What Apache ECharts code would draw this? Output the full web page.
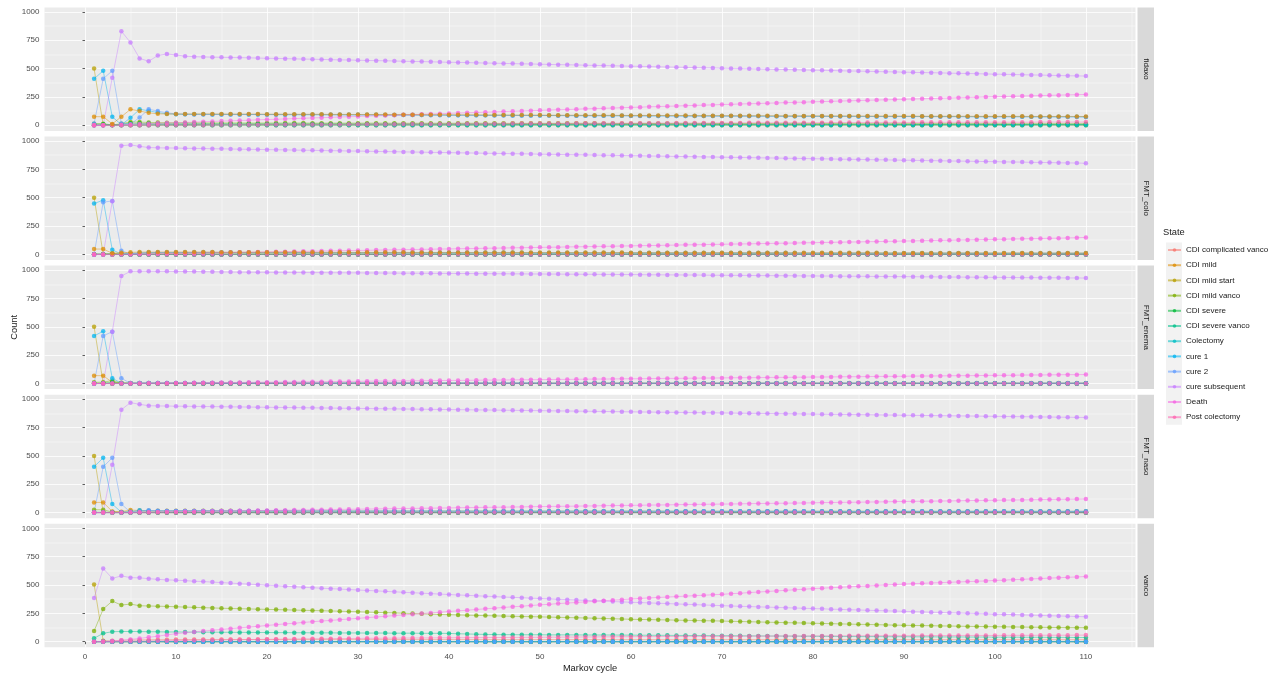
<!DOCTYPE html>
<html>
<head>
<meta charset="utf-8">
<title>Markov cycle counts by state</title>
<script src="https://cdn.jsdelivr.net/npm/echarts@6/dist/echarts.min.js"></script>
<style>
  html, body { margin: 0; padding: 0; background: #ffffff; }
  #chart { width: 1280px; height: 677px; }
</style>
</head>
<body>
<div id="chart"></div>
<script>
// x categories: Markov cycles
const cycles = [
  1,2,3,4,5,6,7,8,9,10,
  11,12,13,14,15,16,17,18,19,20,
  21,22,23,24,25,26,27,28,29,30,
  31,32,33,34,35,36,37,38,39,40,
  41,42,43,44,45,46,47,48,49,50,
  51,52,53,54,55,56,57,58,59,60,
  61,62,63,64,65,66,67,68,69,70,
  71,72,73,74,75,76,77,78,79,80,
  81,82,83,84,85,86,87,88,89,90,
  91,92,93,94,95,96,97,98,99,100,
  101,102,103,104,105,106,107,108,109,110
]

const panelNames = ['fidaxo', 'FMT_colo', 'FMT_enema', 'FMT_naso', 'vanco']
const stateNames = ['CDI complicated vanco', 'CDI mild', 'CDI mild start', 'CDI mild vanco', 'CDI severe',
  'CDI severe vanco', 'Colectomy', 'cure 1', 'cure 2', 'cure subsequent', 'Death', 'Post colectomy']

const xMajorTicks = [0, 10, 20, 30, 40, 50, 60, 70, 80, 90, 100, 110]
const xMinorTicks = [5, 15, 25, 35, 45, 55, 65, 75, 85, 95, 105, 115]
const yMajorTicks = [0, 250, 500, 750, 1000]
const yMinorTicks = [125, 375, 625, 875]

// states that stay empty
const allZero = [
  0,0,0,0,0,0,0,0,0,0,
  0,0,0,0,0,0,0,0,0,0,
  0,0,0,0,0,0,0,0,0,0,
  0,0,0,0,0,0,0,0,0,0,
  0,0,0,0,0,0,0,0,0,0,
  0,0,0,0,0,0,0,0,0,0,
  0,0,0,0,0,0,0,0,0,0,
  0,0,0,0,0,0,0,0,0,0,
  0,0,0,0,0,0,0,0,0,0,
  0,0,0,0,0,0,0,0,0,0,
  0,0,0,0,0,0,0,0,0,0
]

// ---------- fidaxo ----------
const fxCompVanco = [
  0,1,2,2,3,3,4,4,4,5,
  5,5,5,5,5,6,6,6,6,6,
  6,6,6,6,6,6,6,6,6,6,
  6,6,6,6,6,6,6,6,6,6,
  6,6,6,6,6,6,6,6,6,6,
  6,6,6,6,6,6,6,6,6,6,
  6,6,6,6,5,5,5,5,5,5,
  5,5,5,5,5,5,5,5,5,5,
  5,5,5,5,5,5,5,5,5,5,
  5,5,5,5,5,5,5,5,5,5,
  5,5,5,5,5,5,5,5,5,5
]
const fxMild = [
  76,76,12,76,141,126,110,101,100,100,
  100,100,100,100,99,99,99,99,99,98,
  98,98,98,97,97,97,96,96,96,95,
  95,95,95,94,94,94,93,93,93,92,
  92,92,92,91,91,91,90,90,90,90,
  89,89,89,89,88,88,88,88,87,87,
  87,87,86,86,86,86,85,85,85,85,
  84,84,84,84,84,83,83,83,83,83,
  82,82,82,82,82,81,81,81,81,81,
  81,80,80,80,80,80,80,79,79,79,
  79,79,79,78,78,78,78,78,78,78
]
const fxMildStart = [
  500,2,0,0,0,0,0,0,0,0,
  0,0,0,0,0,0,0,0,0,0,
  0,0,0,0,0,0,0,0,0,0,
  0,0,0,0,0,0,0,0,0,0,
  0,0,0,0,0,0,0,0,0,0,
  0,0,0,0,0,0,0,0,0,0,
  0,0,0,0,0,0,0,0,0,0,
  0,0,0,0,0,0,0,0,0,0,
  0,0,0,0,0,0,0,0,0,0,
  0,0,0,0,0,0,0,0,0,0,
  0,0,0,0,0,0,0,0,0,0
]
const fxMildVanco = [
  14,14,3,14,30,28,25,24,23,22,
  22,22,21,21,21,21,21,20,20,20,
  20,20,20,20,19,19,19,19,19,19,
  19,19,19,18,18,18,18,18,18,18,
  18,18,18,18,17,17,17,17,17,17,
  17,17,17,17,17,17,16,16,16,16,
  16,16,16,16,16,16,16,16,15,15,
  15,15,15,15,15,15,15,15,15,15,
  15,15,15,14,14,14,14,14,14,14,
  14,14,14,14,14,14,14,14,14,13,
  13,13,13,13,13,13,13,13,13,13
]
const fxSevere = [
  10,10,2,10,18,17,15,14,14,13,
  13,13,13,13,13,13,12,12,12,12,
  12,12,12,12,12,12,12,12,11,11,
  11,11,11,11,11,11,11,11,11,11,
  11,11,11,11,11,10,10,10,10,10,
  10,10,10,10,10,10,10,10,10,10,
  10,10,10,10,10,10,10,10,10,10,
  10,10,10,9,9,9,9,9,9,9,
  9,9,9,9,9,9,9,9,9,9,
  9,9,9,9,9,9,9,9,9,9,
  9,9,9,9,9,9,9,9,9,9
]
const fxSevereVanco = [
  0,1,2,3,4,5,6,6,7,7,
  7,8,8,8,8,8,8,8,8,8,
  8,8,8,8,8,8,8,8,8,8,
  8,8,8,8,8,8,8,8,8,8,
  8,8,8,8,8,8,8,8,8,8,
  8,8,8,8,8,8,8,8,8,8,
  8,8,8,8,8,8,8,8,8,8,
  7,7,7,7,7,7,7,7,7,7,
  7,7,7,7,7,7,7,7,7,7,
  7,7,7,7,7,7,7,7,7,7,
  7,7,7,7,7,7,7,7,7,7
]
const fxColectomy = [
  0,0,0,1,1,1,1,1,1,1,
  1,1,1,1,1,1,1,1,1,1,
  1,1,1,1,1,1,1,1,1,1,
  1,1,1,1,1,1,1,1,1,1,
  1,1,1,1,1,1,1,1,1,1,
  1,1,1,1,1,1,1,1,1,1,
  1,1,1,1,1,1,1,1,1,1,
  1,1,1,1,1,1,1,1,1,1,
  1,1,1,1,1,1,1,1,1,1,
  1,1,1,1,1,1,1,1,1,1,
  1,1,1,1,1,1,1,1,1,1
]
const fxCure1 = [
  410,481,75,5,66,141,128,112,101,98,
  97,97,97,96,96,96,96,95,95,95,
  95,94,94,94,94,93,93,93,92,92,
  92,92,91,91,91,90,90,90,90,89,
  89,89,88,88,88,88,87,87,87,86,
  86,86,86,85,85,85,85,84,84,84,
  84,83,83,83,83,82,82,82,82,81,
  81,81,81,81,80,80,80,80,80,79,
  79,79,79,79,78,78,78,78,78,78,
  77,77,77,77,77,77,76,76,76,76,
  76,76,75,75,75,75,75,75,75,74
]
const fxCure2 = [
  16,410,481,15,10,69,141,126,110,100,
  97,96,96,96,96,95,95,95,95,94,
  94,94,94,93,93,93,92,92,92,92,
  91,91,91,90,90,90,90,89,89,89,
  88,88,88,88,87,87,87,86,86,86,
  86,85,85,85,85,84,84,84,84,83,
  83,83,83,82,82,82,82,81,81,81,
  81,80,80,80,80,80,79,79,79,79,
  79,78,78,78,78,78,77,77,77,77,
  77,77,76,76,76,76,76,75,75,75,
  75,75,75,75,74,74,74,74,74,74
]
const fxCureSub = [
  0,0,420,830,730,590,565,615,630,620,
  610,605,603,601,600,598,597,595,593,591,
  590,588,586,584,583,581,579,577,576,574,
  572,570,569,567,565,563,562,560,558,556,
  555,553,551,549,548,546,544,542,541,539,
  537,535,534,532,530,528,527,525,523,521,
  520,518,516,514,513,511,509,507,506,504,
  502,500,499,497,495,493,492,490,488,486,
  485,483,481,479,478,476,474,472,471,469,
  467,465,464,462,460,458,457,455,453,451,
  450,448,446,444,443,441,439,437,436,434
]
const fxDeath = [
  0,0,2,5,8,11,14,17,20,22,
  25,28,31,34,37,39,42,45,48,51,
  53,56,59,62,65,67,70,73,76,78,
  81,84,86,89,92,94,97,100,102,105,
  108,110,113,116,118,121,124,126,129,132,
  134,137,139,142,145,147,150,152,155,158,
  160,163,165,168,170,173,175,178,180,183,
  185,188,190,192,195,197,200,202,204,207,
  209,211,214,216,218,221,223,225,227,230,
  232,234,236,239,241,243,245,247,250,252,
  254,256,258,260,262,264,266,268,270,272
]
const fxPostCol = [
  0,0,0,0,1,1,1,2,2,2,
  3,3,3,4,4,4,5,5,5,6,
  6,6,7,7,7,8,8,8,9,9,
  9,10,10,10,11,11,11,12,12,12,
  13,13,13,14,14,14,15,15,15,16,
  16,16,16,17,17,17,18,18,18,18,
  19,19,19,19,20,20,20,20,21,21,
  21,21,22,22,22,22,23,23,23,23,
  23,24,24,24,24,24,25,25,25,25,
  25,26,26,26,26,26,26,27,27,27,
  27,27,27,27,28,28,28,28,28,28
]

// ---------- FMT_colo ----------
const fcCompVanco = [
  0,0,0,1,1,1,1,1,1,1,
  1,1,1,1,1,1,1,1,1,1,
  1,1,1,1,1,1,1,1,1,1,
  1,1,1,1,1,1,1,1,1,1,
  1,1,1,1,1,1,1,1,1,1,
  1,1,1,1,1,1,1,1,1,1,
  1,1,1,1,1,1,1,1,1,1,
  1,1,1,1,1,1,1,1,1,1,
  1,1,1,1,1,1,1,1,1,1,
  1,1,1,1,1,1,1,1,1,1,
  1,1,1,1,1,1,1,1,1,1
]
const fcMild = [
  47,47,10,15,18,20,20,20,20,20,
  20,20,20,20,19,19,19,19,19,19,
  19,19,19,19,18,18,18,18,18,18,
  18,18,18,18,18,17,17,17,17,17,
  17,17,17,17,17,17,17,16,16,16,
  16,16,16,16,16,16,16,16,16,15,
  15,15,15,15,15,15,15,15,15,15,
  15,15,14,14,14,14,14,14,14,14,
  14,14,14,14,14,14,14,13,13,13,
  13,13,13,13,13,13,13,13,13,13,
  13,13,13,13,12,12,12,12,12,12
]
const fcMildStart = [
  500,3,0,0,0,0,0,0,0,0,
  0,0,0,0,0,0,0,0,0,0,
  0,0,0,0,0,0,0,0,0,0,
  0,0,0,0,0,0,0,0,0,0,
  0,0,0,0,0,0,0,0,0,0,
  0,0,0,0,0,0,0,0,0,0,
  0,0,0,0,0,0,0,0,0,0,
  0,0,0,0,0,0,0,0,0,0,
  0,0,0,0,0,0,0,0,0,0,
  0,0,0,0,0,0,0,0,0,0,
  0,0,0,0,0,0,0,0,0,0
]
const fcMildVanco = [
  3,3,8,3,2,2,2,2,2,2,
  2,2,2,2,2,2,2,2,2,2,
  2,2,2,2,2,2,2,2,2,2,
  2,2,2,2,2,2,2,2,2,2,
  2,2,2,2,2,2,2,2,2,2,
  2,2,2,2,2,2,2,2,2,2,
  2,2,2,2,2,2,2,2,2,2,
  2,2,2,2,2,2,2,2,2,2,
  2,2,2,2,2,2,2,2,2,2,
  2,2,2,2,2,2,2,2,2,2,
  2,2,2,2,2,2,2,2,2,2
]
const fcSevere = [
  2,2,3,2,1,1,1,1,1,1,
  1,1,1,1,1,1,1,1,1,1,
  1,1,1,1,1,1,1,1,1,1,
  1,1,1,1,1,1,1,1,1,1,
  1,1,1,1,1,1,1,1,1,1,
  1,1,1,1,1,1,1,1,1,1,
  1,1,1,1,1,1,1,1,1,1,
  1,1,1,1,1,1,1,1,1,1,
  1,1,1,1,1,1,1,1,1,1,
  1,1,1,1,1,1,1,1,1,1,
  1,1,1,1,1,1,1,1,1,1
]
const fcCure1 = [
  449,478,40,3,8,14,16,17,17,17,
  17,17,17,17,17,17,16,16,16,16,
  16,16,16,16,16,15,15,15,15,15,
  15,15,15,15,15,15,14,14,14,14,
  14,14,14,14,14,14,14,14,13,13,
  13,13,13,13,13,13,13,13,13,13,
  13,13,13,12,12,12,12,12,12,12,
  12,12,12,12,12,12,12,12,11,11,
  11,11,11,11,11,11,11,11,11,11,
  11,11,11,11,11,11,11,10,10,10,
  10,10,10,10,10,10,10,10,10,10
]
const fcCure2 = [
  0,460,472,33,3,8,14,16,17,17,
  17,17,17,17,17,16,16,16,16,16,
  16,16,16,16,15,15,15,15,15,15,
  15,15,15,15,15,14,14,14,14,14,
  14,14,14,14,14,14,14,13,13,13,
  13,13,13,13,13,13,13,13,13,13,
  12,12,12,12,12,12,12,12,12,12,
  12,12,12,12,12,12,12,11,11,11,
  11,11,11,11,11,11,11,11,11,11,
  11,11,11,11,11,10,10,10,10,10,
  10,10,10,10,10,10,10,10,10,10
]
const fcCureSub = [
  0,0,468,958,966,953,943,940,939,938,
  936,935,934,932,931,930,928,927,926,924,
  923,922,920,919,918,916,915,914,912,911,
  910,908,907,906,904,903,902,900,899,898,
  896,895,894,892,891,890,888,887,886,884,
  883,882,880,879,878,876,875,874,872,871,
  870,868,867,866,864,863,862,860,859,858,
  856,855,854,852,851,850,848,847,846,844,
  843,842,840,839,838,836,835,834,832,831,
  830,828,827,826,824,823,822,820,819,818,
  816,815,814,812,811,810,808,807,806,804
]
const fcDeath = [
  0,0,0,1,2,3,4,6,7,8,
  10,11,12,14,15,16,18,19,20,22,
  23,24,26,27,28,30,31,32,34,35,
  36,38,39,40,42,43,44,46,47,48,
  50,51,52,54,55,56,58,59,60,62,
  63,64,66,67,68,70,71,72,74,75,
  77,78,79,81,82,84,85,86,88,89,
  91,92,93,95,96,98,99,100,102,103,
  105,106,108,109,110,112,113,115,116,118,
  119,121,122,124,125,127,128,130,131,133,
  134,136,137,139,140,142,143,145,147,150
]

// ---------- FMT_enema ----------
const feMild = [
  69,69,10,6,5,5,5,5,5,5,
  5,5,5,5,5,5,5,5,5,5,
  5,5,5,5,5,5,5,5,5,5,
  5,5,5,5,5,5,5,5,5,5,
  5,5,5,5,4,4,4,4,4,4,
  4,4,4,4,4,4,4,4,4,4,
  4,4,4,4,4,4,4,4,4,4,
  4,4,4,4,4,4,4,4,4,4,
  4,4,4,4,4,4,4,4,4,4,
  4,4,4,4,4,4,4,4,4,4,
  4,4,4,4,4,4,4,4,4,4
]
const feMildStart = [
  500,2,0,0,0,0,0,0,0,0,
  0,0,0,0,0,0,0,0,0,0,
  0,0,0,0,0,0,0,0,0,0,
  0,0,0,0,0,0,0,0,0,0,
  0,0,0,0,0,0,0,0,0,0,
  0,0,0,0,0,0,0,0,0,0,
  0,0,0,0,0,0,0,0,0,0,
  0,0,0,0,0,0,0,0,0,0,
  0,0,0,0,0,0,0,0,0,0,
  0,0,0,0,0,0,0,0,0,0,
  0,0,0,0,0,0,0,0,0,0
]
const feMildVanco = [
  10,12,25,4,2,1,1,1,1,1,
  1,1,1,1,1,1,1,1,1,1,
  1,1,1,1,1,1,1,1,1,1,
  1,1,1,1,1,1,1,1,1,1,
  1,1,1,1,1,1,1,1,1,1,
  1,1,1,1,1,1,1,1,1,1,
  1,1,1,1,1,1,1,1,1,1,
  1,1,1,1,1,1,1,1,1,1,
  1,1,1,1,1,1,1,1,1,1,
  1,1,1,1,1,1,1,1,1,1,
  1,1,1,1,1,1,1,1,1,1
]
const feSevere = [
  1,3,10,2,1,0,0,0,0,0,
  0,0,0,0,0,0,0,0,0,0,
  0,0,0,0,0,0,0,0,0,0,
  0,0,0,0,0,0,0,0,0,0,
  0,0,0,0,0,0,0,0,0,0,
  0,0,0,0,0,0,0,0,0,0,
  0,0,0,0,0,0,0,0,0,0,
  0,0,0,0,0,0,0,0,0,0,
  0,0,0,0,0,0,0,0,0,0,
  0,0,0,0,0,0,0,0,0,0,
  0,0,0,0,0,0,0,0,0,0
]
const feCure1 = [
  420,461,46,2,4,4,4,4,4,4,
  4,4,4,4,4,4,4,4,4,4,
  4,4,4,4,4,4,4,4,4,4,
  4,4,4,4,4,4,4,4,4,4,
  4,4,4,4,4,4,4,4,4,4,
  3,3,3,3,3,3,3,3,3,3,
  3,3,3,3,3,3,3,3,3,3,
  3,3,3,3,3,3,3,3,3,3,
  3,3,3,3,3,3,3,3,3,3,
  3,3,3,3,3,3,3,3,3,3,
  3,3,3,3,3,3,3,3,3,3
]
const feCure2 = [
  0,420,457,46,2,4,4,4,4,4,
  4,4,4,4,4,4,4,4,4,4,
  4,4,4,4,4,4,4,4,4,4,
  4,4,4,4,4,4,4,4,4,4,
  4,4,4,4,4,4,4,4,4,4,
  3,3,3,3,3,3,3,3,3,3,
  3,3,3,3,3,3,3,3,3,3,
  3,3,3,3,3,3,3,3,3,3,
  3,3,3,3,3,3,3,3,3,3,
  3,3,3,3,3,3,3,3,3,3,
  3,3,3,3,3,3,3,3,3,3
]
const feCureSub = [
  0,0,457,948,990,991,991,990,990,989,
  988,987,986,985,984,983,982,982,981,981,
  980,980,979,979,978,978,977,977,976,976,
  975,975,974,974,973,973,972,972,971,971,
  970,970,969,969,968,968,967,967,966,966,
  965,965,964,964,963,963,962,962,961,961,
  960,959,959,958,958,957,957,956,955,955,
  954,954,953,952,952,951,951,950,949,949,
  948,948,947,946,946,945,944,944,943,943,
  942,941,941,940,939,939,938,938,937,936,
  936,935,934,934,933,933,932,931,931,930
]
const feDeath = [
  0,0,0,0,1,1,2,3,3,4,
  5,6,6,7,8,9,9,10,11,12,
  12,13,14,15,15,16,17,18,18,19,
  20,21,21,22,23,24,24,25,26,27,
  27,28,29,30,30,31,32,33,33,34,
  35,36,36,37,38,39,39,40,41,42,
  42,43,44,45,45,46,47,48,48,49,
  50,51,51,52,53,54,54,55,56,57,
  57,58,59,60,60,61,62,63,63,64,
  65,66,66,67,68,69,69,70,71,72,
  72,73,74,75,75,76,77,78,78,79
]

// ---------- FMT_naso ----------
const fnMild = [
  90,90,10,8,23,18,16,16,16,16,
  16,16,16,16,16,16,15,15,15,15,
  15,15,15,15,15,15,15,15,14,14,
  14,14,14,14,14,14,14,14,14,14,
  14,14,14,14,13,13,13,13,13,13,
  13,13,13,13,13,13,13,13,13,13,
  13,13,13,12,12,12,12,12,12,12,
  12,12,12,12,12,12,12,12,12,12,
  12,12,12,12,12,11,11,11,11,11,
  11,11,11,11,11,11,11,11,11,11,
  11,11,11,11,11,11,11,11,11,11
]
const fnMildStart = [
  500,3,0,0,0,0,0,0,0,0,
  0,0,0,0,0,0,0,0,0,0,
  0,0,0,0,0,0,0,0,0,0,
  0,0,0,0,0,0,0,0,0,0,
  0,0,0,0,0,0,0,0,0,0,
  0,0,0,0,0,0,0,0,0,0,
  0,0,0,0,0,0,0,0,0,0,
  0,0,0,0,0,0,0,0,0,0,
  0,0,0,0,0,0,0,0,0,0,
  0,0,0,0,0,0,0,0,0,0,
  0,0,0,0,0,0,0,0,0,0
]
const fnMildVanco = [
  25,25,5,4,6,5,5,5,4,4,
  4,4,4,4,4,4,4,4,4,4,
  4,4,4,4,4,4,4,4,4,4,
  4,4,4,4,4,4,4,4,4,4,
  4,4,4,4,3,3,3,3,3,3,
  3,3,3,3,3,3,3,3,3,3,
  3,3,3,3,3,3,3,3,3,3,
  3,3,3,3,3,3,3,3,3,3,
  3,3,3,3,3,3,3,3,3,3,
  3,3,3,3,3,3,3,3,3,3,
  3,3,3,3,3,3,3,3,3,3
]
const fnSevere = [
  3,3,1,1,2,2,2,2,2,2,
  2,2,2,2,2,2,2,2,2,2,
  2,2,2,2,2,2,2,2,2,2,
  1,1,1,1,1,1,1,1,1,1,
  1,1,1,1,1,1,1,1,1,1,
  1,1,1,1,1,1,1,1,1,1,
  1,1,1,1,1,1,1,1,1,1,
  1,1,1,1,1,1,1,1,1,1,
  1,1,1,1,1,1,1,1,1,1,
  1,1,1,1,1,1,1,1,1,1,
  1,1,1,1,1,1,1,1,1,1
]
const fnCure1 = [
  404,483,75,3,8,20,16,15,15,15,
  15,15,15,15,15,14,14,14,14,14,
  14,14,14,14,14,14,14,13,13,13,
  13,13,13,13,13,13,13,13,13,13,
  13,13,12,12,12,12,12,12,12,12,
  12,12,12,12,12,12,12,12,12,12,
  12,12,12,12,11,11,11,11,11,11,
  11,11,11,11,11,11,11,11,11,11,
  11,11,11,11,11,11,11,11,11,11,
  11,11,11,11,11,11,11,11,11,11,
  11,11,11,11,11,11,11,11,11,11
]
const fnCure2 = [
  0,404,483,75,3,8,20,16,15,15,
  15,15,15,15,14,14,14,14,14,14,
  14,14,14,14,14,13,13,13,13,13,
  13,13,13,13,13,13,13,13,12,12,
  12,12,12,12,12,12,12,12,12,12,
  12,12,12,12,12,11,11,11,11,11,
  11,11,11,11,11,11,11,11,11,11,
  11,11,11,11,11,11,11,11,11,11,
  10,10,10,10,10,10,10,10,10,10,
  10,10,10,10,10,10,10,10,10,10,
  10,10,10,10,10,10,10,10,10,10
]
const fnCureSub = [
  0,0,421,908,970,955,943,941,940,939,
  938,937,936,935,934,933,932,931,930,929,
  928,927,926,925,924,923,922,921,920,919,
  918,917,916,915,914,913,912,911,910,909,
  908,907,906,905,904,903,902,901,900,899,
  898,897,896,895,894,893,892,891,890,889,
  888,887,886,885,884,883,882,881,880,879,
  878,877,876,875,874,873,872,871,870,869,
  868,867,866,865,864,863,862,861,860,859,
  858,857,856,855,854,853,852,851,850,849,
  848,847,846,845,844,843,842,841,840,839
]
const fnDeath = [
  0,0,0,1,2,3,4,5,7,8,
  9,10,11,12,13,14,16,17,18,19,
  20,21,22,23,25,26,27,28,29,30,
  31,32,34,35,36,37,38,39,40,41,
  43,44,45,46,47,48,49,50,52,53,
  54,55,56,57,58,59,61,62,63,64,
  65,66,67,68,70,71,72,73,74,75,
  76,77,79,80,81,82,83,84,85,86,
  88,89,90,91,92,93,94,95,97,98,
  99,100,101,102,103,104,106,107,108,109,
  110,111,112,113,115,116,117,118,119,120
]

// ---------- vanco ----------
const fvCompVanco = [
  0,3,8,12,14,16,17,18,18,19,
  19,19,19,19,19,19,19,19,19,19,
  19,19,19,19,19,19,19,19,19,19,
  19,19,19,19,19,19,19,19,19,19,
  19,19,19,19,19,19,19,19,19,19,
  19,19,19,19,19,19,19,19,18,18,
  18,18,18,18,18,18,18,18,18,18,
  18,18,18,18,18,18,18,18,18,18,
  18,18,18,18,18,18,18,18,18,18,
  18,18,18,18,18,18,18,18,18,18,
  18,18,18,18,18,18,18,18,18,18
]
const fvMildStart = [
  505,8,0,0,0,0,0,0,0,0,
  0,0,0,0,0,0,0,0,0,0,
  0,0,0,0,0,0,0,0,0,0,
  0,0,0,0,0,0,0,0,0,0,
  0,0,0,0,0,0,0,0,0,0,
  0,0,0,0,0,0,0,0,0,0,
  0,0,0,0,0,0,0,0,0,0,
  0,0,0,0,0,0,0,0,0,0,
  0,0,0,0,0,0,0,0,0,0,
  0,0,0,0,0,0,0,0,0,0,
  0,0,0,0,0,0,0,0,0,0
]
const fvMildVanco = [
  94,288,358,323,332,317,315,313,311,308,
  305,303,300,298,295,293,291,289,287,285,
  283,281,279,277,275,273,271,269,266,264,
  261,259,256,254,251,248,246,243,240,238,
  236,234,232,230,228,226,224,222,221,219,
  217,215,213,211,209,207,205,203,200,198,
  196,195,193,192,190,188,187,185,184,182,
  180,178,176,174,172,170,168,166,165,163,
  161,159,157,155,153,152,150,148,146,145,
  143,142,141,139,138,137,135,134,133,132,
  131,130,129,128,127,126,125,124,124,123
]
const fvSevereVanco = [
  30,74,88,90,90,89,88,87,86,86,
  85,85,84,84,83,83,82,82,81,81,
  80,80,79,79,78,78,78,77,77,77,
  76,76,76,75,75,75,74,74,74,73,
  70,68,66,64,63,62,62,61,61,61,
  60,60,60,60,59,59,59,59,58,58,
  57,57,56,56,55,55,54,54,53,53,
  52,52,51,51,50,50,49,49,48,48,
  47,47,46,46,45,45,45,44,44,44,
  43,43,43,42,42,42,41,41,41,40,
  40,40,39,39,39,38,38,38,37,37
]
const fvColectomy = [
  0,0,1,1,2,2,2,2,2,2,
  2,2,2,2,2,2,2,2,2,2,
  2,2,2,2,2,2,2,2,2,2,
  2,2,2,2,2,2,2,2,2,2,
  2,2,2,2,2,2,2,2,2,2,
  2,2,2,2,2,2,2,2,2,2,
  2,2,2,2,2,2,2,2,2,2,
  2,2,2,2,2,2,2,2,2,2,
  2,2,2,2,2,2,2,2,2,2,
  2,2,2,2,2,2,2,2,2,2,
  2,2,2,2,2,2,2,2,2,2
]
const fvCureSub = [
  385,646,558,581,565,563,556,550,545,543,
  538,534,530,526,521,517,512,508,503,498,
  494,489,485,480,476,472,468,464,460,456,
  452,448,444,440,436,432,428,424,420,416,
  412,409,405,401,398,394,391,388,384,381,
  378,374,371,368,364,361,358,354,351,348,
  345,342,339,336,333,330,327,324,321,318,
  315,312,310,307,305,302,300,297,295,292,
  290,287,285,282,280,277,275,272,270,268,
  265,263,260,258,255,253,251,248,246,243,
  241,239,236,234,232,229,227,225,222,220
]
const fvDeath = [
  0,2,6,12,20,29,39,49,60,70,
  78,86,94,101,108,115,122,129,136,143,
  150,157,163,170,176,182,188,194,200,206,
  212,218,224,230,236,242,248,254,260,266,
  272,278,284,290,296,302,308,313,319,325,
  330,336,341,346,351,356,361,366,371,377,
  382,386,390,394,398,402,406,410,414,418,
  423,428,433,438,443,448,453,458,463,468,
  472,476,480,484,488,492,496,500,504,508,
  512,515,518,521,524,527,530,533,536,540,
  543,547,550,554,557,561,564,568,571,575
]
const fvPostCol = [
  0,0,1,2,3,5,6,8,9,11,
  12,13,14,15,16,17,18,19,20,21,
  22,23,24,25,26,26,27,28,28,29,
  30,30,31,31,32,32,33,33,34,34,
  35,35,36,36,37,37,38,38,39,39,
  40,40,41,41,42,42,43,43,44,44,
  45,45,45,46,46,46,47,47,47,48,
  48,48,49,49,49,50,50,50,50,51,
  51,51,51,52,52,52,52,53,53,53,
  53,54,54,54,54,55,55,55,55,55,
  56,56,56,56,57,57,57,57,58,58
]

// one row per facet, columns in stateNames order
const panelSeries = [
  [fxCompVanco, fxMild, fxMildStart, fxMildVanco, fxSevere, fxSevereVanco, fxColectomy, fxCure1, fxCure2, fxCureSub, fxDeath, fxPostCol],
  [fcCompVanco, fcMild, fcMildStart, fcMildVanco, fcSevere, allZero, allZero, fcCure1, fcCure2, fcCureSub, fcDeath, allZero],
  [allZero, feMild, feMildStart, feMildVanco, feSevere, allZero, allZero, feCure1, feCure2, feCureSub, feDeath, allZero],
  [allZero, fnMild, fnMildStart, fnMildVanco, fnSevere, allZero, allZero, fnCure1, fnCure2, fnCureSub, fnDeath, allZero],
  [fvCompVanco, allZero, fvMildStart, fvMildVanco, allZero, fvSevereVanco, fvColectomy, allZero, allZero, fvCureSub, fvDeath, fvPostCol]
]

// ggplot hue palette, 12 levels
const stateColors = ['#F8766D', '#DE8C00', '#B79F00', '#7CAE00', '#00BA38', '#00C08B',
  '#00BFC4', '#00B4F0', '#619CFF', '#C77CFF', '#F564E3', '#FF64B0']

const fontFamily = '"Liberation Sans", Arial, sans-serif'
const xMin = -4.45, xMax = 115.45
const yMin = -49.5, yMax = 1040

const plotLeft = 44.5
const plotRight = 1135.5
const panelTop0 = 7.4
const panelHeight = 123.5
const panelStep = 129.1
const stripGap = 2
const stripWidth = 16.5

const chart = echarts.init(document.getElementById('chart'), null, { renderer: 'canvas' })

const grid = []
const xAxis = []
const yAxis = []
const series = []
const graphic = []

panelNames.forEach(function (panel, i) {
  const top = panelTop0 + i * panelStep
  const isBottom = i === panelNames.length - 1
  grid.push({
    left: plotLeft, top: top, width: plotRight - plotLeft, height: panelHeight,
    show: true, backgroundColor: '#EBEBEB', borderWidth: 0
  })
  // major x
  xAxis.push({
    gridIndex: i, type: 'value', min: xMin, max: xMax,
    axisLine: { show: false },
    axisTick: { show: isBottom, customValues: xMajorTicks, length: 2.5, lineStyle: { color: '#333333', width: 0.8 } },
    axisLabel: { show: isBottom, customValues: xMajorTicks, margin: 5, color: '#4D4D4D', fontSize: 8, fontFamily: fontFamily },
    splitLine: { show: true, lineStyle: { color: '#FFFFFF', width: 0.8 } }
  })
  // minor x
  xAxis.push({
    gridIndex: i, type: 'value', min: xMin, max: xMax,
    axisLine: { show: false },
    axisTick: { show: false, customValues: xMinorTicks },
    axisLabel: { show: false },
    splitLine: { show: true, lineStyle: { color: '#FFFFFF', width: 0.4 } }
  })
  // major y
  yAxis.push({
    gridIndex: i, type: 'value', min: yMin, max: yMax,
    axisLine: { show: false },
    axisTick: { show: true, customValues: yMajorTicks, length: 2.5, lineStyle: { color: '#333333', width: 0.8 } },
    axisLabel: {
      show: true, customValues: yMajorTicks, margin: 5, color: '#4D4D4D', fontSize: 8, fontFamily: fontFamily,
      formatter: function (v) { return String(v) }
    },
    splitLine: { show: true, lineStyle: { color: '#FFFFFF', width: 0.8 } }
  })
  // minor y
  yAxis.push({
    gridIndex: i, type: 'value', min: yMin, max: yMax,
    axisLine: { show: false },
    axisTick: { show: false, customValues: yMinorTicks },
    axisLabel: { show: false },
    splitLine: { show: true, lineStyle: { color: '#FFFFFF', width: 0.4 } }
  })

  // in fidaxo and FMT_colo the orange CDI mild points sit on top of the cure rows
  const mildOnTop = panel === 'fidaxo' || panel === 'FMT_colo'

  stateNames.forEach(function (state, k) {
    const values = panelSeries[i][k]
    series.push({
      name: state,
      type: 'line',
      xAxisIndex: 2 * i,
      yAxisIndex: 2 * i,
      z: (mildOnTop && state === 'CDI mild') ? 3 : 2,
      data: cycles.map(function (c, j) { return [c, values[j]] }),
      symbol: 'circle',
      symbolSize: 4.5,
      showAllSymbol: true,
      lineStyle: { width: 0.8, color: stateColors[k], opacity: 0.55 },
      itemStyle: { color: stateColors[k], opacity: 0.75 },
      emphasis: { disabled: true },
      silent: true
    })
  })

  // facet strip on the right
  graphic.push({
    type: 'rect', silent: true,
    shape: { x: plotRight + stripGap, y: top, width: stripWidth, height: panelHeight },
    style: { fill: '#D9D9D9' }
  })
  graphic.push({
    type: 'text', silent: true,
    x: plotRight + stripGap + stripWidth / 2, y: top + panelHeight / 2,
    rotation: -Math.PI / 2,
    style: {
      text: panel, fill: '#1A1A1A', fontSize: 8, fontFamily: fontFamily,
      align: 'center', verticalAlign: 'middle', textAlign: 'center', textVerticalAlign: 'middle'
    }
  })
})

const legendTop = 242.4
const legendRow = 15.2

// legend key background (grey95)
graphic.push({
  type: 'rect', silent: true,
  shape: { x: 1166, y: legendTop, width: 16, height: legendRow * stateNames.length },
  style: { fill: '#F2F2F2' }
})
graphic.push({
  type: 'text', silent: true, x: 1163, y: legendTop - 10,
  style: { text: 'State', fill: '#1A1A1A', fontSize: 9.3, fontFamily: fontFamily, align: 'left', verticalAlign: 'middle', textAlign: 'left', textVerticalAlign: 'middle' }
})
graphic.push({
  type: 'text', silent: true, x: 14, y: (panelTop0 + panelTop0 + 4 * panelStep + panelHeight) / 2,
  rotation: Math.PI / 2,
  style: { text: 'Count', fill: '#1A1A1A', fontSize: 9.3, fontFamily: fontFamily, align: 'center', verticalAlign: 'middle', textAlign: 'center', textVerticalAlign: 'middle' }
})
graphic.push({
  type: 'text', silent: true, x: (plotLeft + plotRight) / 2, y: 668,
  style: { text: 'Markov cycle', fill: '#1A1A1A', fontSize: 9.3, fontFamily: fontFamily, align: 'center', verticalAlign: 'middle', textAlign: 'center', textVerticalAlign: 'middle' }
})

const option = {
  backgroundColor: '#FFFFFF',
  animation: false,
  color: stateColors,
  textStyle: { fontFamily: fontFamily },
  legend: {
    data: stateNames,
    orient: 'vertical',
    left: 1167,
    top: legendTop,
    padding: 0,
    itemGap: 0,
    itemWidth: 13,
    itemHeight: 4.5,
    selectedMode: false,
    textStyle: { fontSize: 8, color: '#1A1A1A', lineHeight: legendRow, fontFamily: fontFamily }
  },
  grid: grid,
  xAxis: xAxis,
  yAxis: yAxis,
  series: series,
  graphic: graphic
}

chart.setOption(option)
</script>
</body>
</html>
